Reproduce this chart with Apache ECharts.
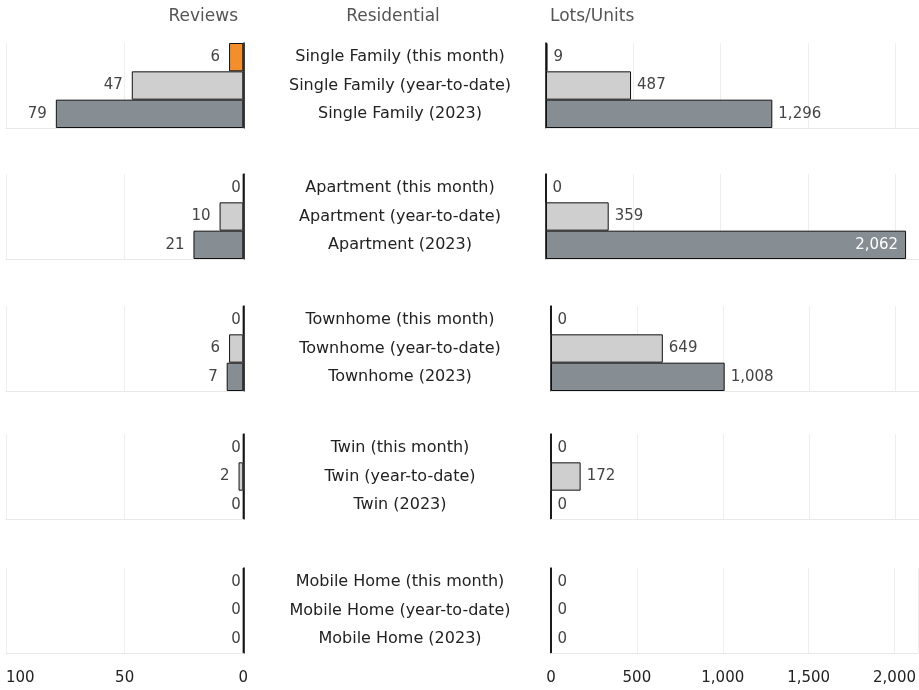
<!DOCTYPE html>
<html>
<head>
<meta charset="utf-8">
<script src="https://cdn.jsdelivr.net/npm/echarts@6/dist/echarts.min.js"></script>
<style>html,body{margin:0;padding:0;background:#fff}#c{width:919px;height:690px}</style>
</head>
<body>
<div id="c"></div>
<script>
// ---- data ----
const categories = ['Single Family', 'Apartment', 'Townhome', 'Twin', 'Mobile Home'];
const periods = ['this month', 'year-to-date', '2023'];
const reviews = [
  [6, 47, 79],
  [0, 10, 21],
  [0, 6, 7],
  [0, 2, 0],
  [0, 0, 0]
];
const lots = [
  [9, 487, 1296],
  [0, 359, 2062],
  [0, 649, 1008],
  [0, 172, 0],
  [0, 0, 0]
];
const reviewTicks = [0, 50, 100];
const lotTicks = [0, 500, 1000, 1500, 2000];
const headers = ['Reviews', 'Residential', 'Lots/Units'];

// ---- layout / style ----
const FONT = 'DejaVu Sans';
const periodColors = ['#F28E2B', '#CFCFCF', '#868D93'];
const groupTops = [43, 174, 306, 434, 568];
const groupH = 85;
const rightLefts = [546, 546, 551, 551, 551];
const W = 919;
const leftZeroX = 243.3;
const rightMax = 2136;

const fmt = v => Number(v).toLocaleString('en-US');

const grids = [], xAxes = [], yAxes = [], series = [];
categories.forEach((cat, g) => {
  const labels = periods.map(p => cat + ' (' + p + ')');
  const last = g === categories.length - 1;
  grids.push({left: 6, right: W - leftZeroX, top: groupTops[g], height: groupH, containLabel: false});
  grids.push({left: rightLefts[g], right: 0, top: groupTops[g], height: groupH, containLabel: false});

  const li = 2 * g, ri = 2 * g + 1;
  xAxes.push({
    gridIndex: li, type: 'value', min: 0, max: reviewTicks[reviewTicks.length - 1],
    interval: reviewTicks[1] - reviewTicks[0], inverse: true,
    axisLine: {show: true, lineStyle: {color: '#e8e8e8'}},
    axisTick: {show: false},
    splitLine: {show: true, lineStyle: {color: '#eeeeee'}},
    axisLabel: {show: last, fontFamily: FONT, fontSize: 15, color: '#222', margin: 18,
      alignMaxLabel: 'left', formatter: fmt}
  });
  xAxes.push({
    gridIndex: ri, type: 'value', min: 0, max: rightMax,
    interval: lotTicks[1] - lotTicks[0],
    axisLine: {show: true, lineStyle: {color: '#e8e8e8'}},
    axisTick: {show: false},
    splitLine: {show: true, lineStyle: {color: '#eeeeee'}},
    axisLabel: {show: last, fontFamily: FONT, fontSize: 15, color: '#222', margin: 18,
      showMaxLabel: false, formatter: fmt}
  });
  yAxes.push({
    gridIndex: li, type: 'category', data: labels, inverse: true,
    axisLine: {show: true, onZero: true, lineStyle: {color: '#000', width: 1.5}},
    axisTick: {show: false}, axisLabel: {show: false}
  });
  yAxes.push({
    gridIndex: ri, type: 'category', data: labels, inverse: true,
    axisLine: {show: true, onZero: true, lineStyle: {color: '#000', width: 1.5}},
    axisTick: {show: false},
    axisLabel: {show: true, align: 'center', margin: rightLefts[g] - 400,
      fontFamily: FONT, fontSize: 16, color: '#222'}
  });

  series.push({
    type: 'bar', xAxisIndex: li, yAxisIndex: li, barCategoryGap: '0%',
    data: reviews[g].map((v, i) => ({
      value: v,
      itemStyle: {color: periodColors[i], borderColor: '#111', borderWidth: 1},
      label: {distance: v === 0 ? 2 : 9}
    })),
    label: {show: true, position: 'left', fontFamily: FONT, fontSize: 15, color: '#444', formatter: p => fmt(p.value)},
    silent: true, animation: false
  });
  series.push({
    type: 'bar', xAxisIndex: ri, yAxisIndex: ri, barCategoryGap: '0%',
    data: lots[g].map((v, i) => {
      const inside = v > 1900;
      return {
        value: v,
        itemStyle: {color: periodColors[i], borderColor: '#111', borderWidth: 1},
        label: inside ? {position: 'insideRight', color: '#fff', distance: 8} : {}
      };
    }),
    label: {show: true, position: 'right', distance: 6, fontFamily: FONT, fontSize: 15, color: '#444', formatter: p => fmt(p.value)},
    silent: true, animation: false
  });
});

const hdrStyle = {fontFamily: FONT, fontSize: 17, fontWeight: 'normal', color: '#555'};
const option = {
  animation: false,
  title: [
    {text: headers[0], right: W - 238, top: 8, textStyle: hdrStyle, padding: 0},
    {text: headers[1], left: 393, textAlign: 'center', top: 8, textStyle: hdrStyle, padding: 0},
    {text: headers[2], left: 550, top: 8, textStyle: hdrStyle, padding: 0}
  ],
  grid: grids, xAxis: xAxes, yAxis: yAxes, series: series
};
const chart = echarts.init(document.getElementById('c'), null, {renderer: 'canvas'});
chart.setOption(option);
</script>
</body>
</html>
